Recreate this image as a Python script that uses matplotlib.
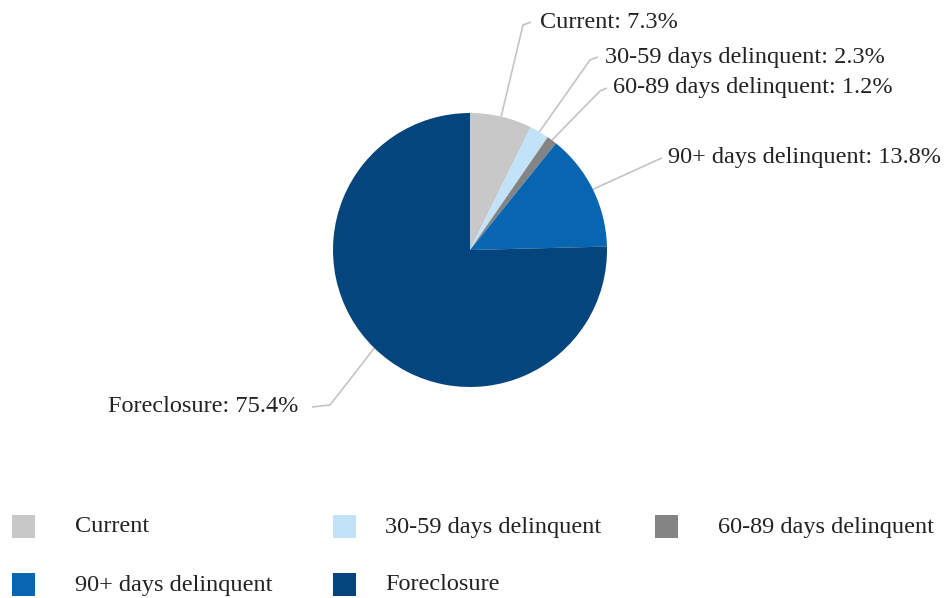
import numpy as np
import matplotlib
matplotlib.use("Agg")
import matplotlib.pyplot as plt
from matplotlib.patches import Rectangle

categories = ["Current", "30-59 days delinquent", "60-89 days delinquent",
              "90+ days delinquent", "Foreclosure"]
values = [7.3, 2.3, 1.2, 13.8, 75.4]
colors = ["#c8c8c8", "#c2e2f8", "#848484", "#0865b1", "#05457d"]

W, H = 948, 598
fig = plt.figure(figsize=(W / 100, H / 100), dpi=100)
ax = fig.add_axes([0, 0, 1, 1])
ax.set_xlim(0, W)
ax.set_ylim(H, 0)
ax.set_aspect("equal")
ax.axis("off")

plt.rcParams["font.family"] = ["Liberation Serif", "DejaVu Serif"]
FS = 17.5
TXT = "#222222"
LINE = "#c4c4c4"

cx, cy, r = 470, 250, 137
pax = fig.add_axes([(cx - r) / W, 1 - (cy + r) / H, 2 * r / W, 2 * r / H])
wedges, _ = pax.pie(values, colors=colors, startangle=90, counterclock=False,
                    radius=1, wedgeprops=dict(linewidth=0))
pax.set_xlim(-1, 1)
pax.set_ylim(-1, 1)
pax.set_aspect("auto")
pax.axis("off")

elbows = [(523, 25), (590, 60), (600, 91), (655, 161), (330, 405)]
ends = [(531, 22), (598, 57), (607, 88), (662, 158), (312, 407)]
aligns = ["left", "left", "left", "left", "right"]
pads = [9, 7, 6, 6, -14]

for w, cat, v, el, en, ha, pd in zip(wedges, categories, values, elbows, ends, aligns, pads):
    ang = np.deg2rad((w.theta1 + w.theta2) / 2)
    sx = cx + r * np.cos(ang)
    sy = cy - r * np.sin(ang)
    ax.plot([sx, el[0], en[0]], [sy, el[1], en[1]], color=LINE, lw=1.2,
            solid_capstyle="butt")
    ax.text(en[0] + pd, en[1], f"{cat}: {v}%", ha=ha, va="center",
            fontsize=FS, color=TXT)

leg_sw_x = [12, 333, 655, 12, 333]
leg_tx_x = [75, 385, 718, 75, 385]
leg_y = [526, 526, 526, 584, 584]
for cat, col, sx, tx, yy in zip(categories, colors, leg_sw_x, leg_tx_x, leg_y):
    ax.add_patch(Rectangle((sx, yy - 11), 23, 23, color=col, lw=0))
    ax.text(tx, yy + 1, cat, ha="left", va="center", fontsize=FS, color=TXT)

fig.savefig("out.png", dpi=100)
